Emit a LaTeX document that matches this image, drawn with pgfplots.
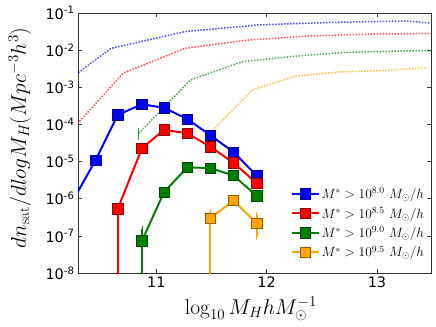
\RequirePackage{fix-cm}
\documentclass[border=0pt]{standalone}
\usepackage{fontspec}
\newfontfamily\dv{DejaVu Sans}
\usepackage{pgfplots}
\pgfplotsset{compat=1.18}

\definecolor{cb}{RGB}{0,0,255}
\definecolor{cr}{RGB}{255,0,0}
\definecolor{cg}{RGB}{0,128,0}
\definecolor{co}{RGB}{255,165,0}

\pgfplotsset{
  solidser/.style={#1, line width=2bp, mark=square*, mark size=5.2bp,
    mark options={solid, fill=#1, draw=#1!55!black, line width=0.6bp},
    error bars/.cd, y dir=both, y explicit,
    error bar style={line width=1.8bp, #1},
    error mark options={#1, mark size=2.8bp, line width=0.7bp},
    /pgfplots/.cd},
  dotser/.style={#1, opacity=0.7, line width=1.5bp, dash pattern=on 1.5bp off 1.5bp,
    mark=none, forget plot,
    error bars/.cd, y dir=both, y explicit,
    error bar style={solid, line width=1.4bp, #1},
    error mark options={solid, #1, mark size=2.8bp, line width=0.8bp},
    /pgfplots/.cd},
  errleg/.style={legend image code/.code={
    \draw[##1, mark=none] (0cm,0cm) -- (0.95cm,0cm);
    \draw[##1, mark=none] (0.475cm,-0.17cm) -- (0.475cm,0.17cm);
    \draw[##1, only marks] plot coordinates {(0.475cm,0cm)};}}
}

\begin{document}
\begin{tikzpicture}
\begin{axis}[
  name=main,
  scale only axis, width=353bp, height=260bp,
  ymode=log, log basis y=10,
  xmin=10.29, xmax=13.49, ymin=1e-8, ymax=1e-1,
  xtick={11,12,13}, xticklabels={11,12,13},
  ytick={1e-8,1e-7,1e-6,1e-5,1e-4,1e-3,1e-2,1e-1},
  yticklabels={10\textsuperscript{-8},10\textsuperscript{-7},10\textsuperscript{-6},10\textsuperscript{-5},10\textsuperscript{-4},10\textsuperscript{-3},10\textsuperscript{-2},10\textsuperscript{-1}},
  tick label style={font=\dv\fontsize{14.5}{16}\selectfont},
  tick align=inside, major tick length=4bp, minor tick length=2bp,
  xtick pos=both, ytick pos=both,
  axis line style={black!80, line width=0.8bp},
  every tick/.style={black!80, line width=0.6bp},
  xlabel={$\log_{10} M_H h M_\odot^{-1}$},
  ylabel={$dn_{\mathrm{sat}}/dlog M_H (Mpc^{-3}h^3)$},
  xlabel style={font=\fontsize{21.5}{24}\selectfont, at={(axis description cs:0.49,-0.137)}, anchor=center},
  ylabel style={font=\fontsize{21.5}{24}\selectfont, at={(axis description cs:-0.165,0.52)}, anchor=center},
  legend style={at={(0.995,0.04)}, anchor=south east, draw=none, fill=none,
    font=\fontsize{13.5}{15}\selectfont, row sep=3bp, legend cell align=left,
    /tikz/every even column/.append style={column sep=3bp}},
  clip=true,
]
% solid series with error bars
\addplot[errleg, solidser=cb] coordinates {
  (10.24,8.5e-7) (10.45,1.1e-5) (10.65,1.8e-4) (10.87,3.5e-4) (11.07,2.8e-4)
  (11.28,1.4e-4) (11.49,5.1e-5) (11.70,1.8e-5) (11.91,4.2e-6)
};
\addlegendentry{$M^{*} > 10^{8.0}\ M_{\odot}/h$}
\addplot[errleg, solidser=cr] coordinates {
  (10.65,5.3e-7) -= (0,5.299e-7)
  (10.87,2.3e-5) (11.07,7.1e-5) (11.28,5.8e-5) (11.49,2.5e-5)
  (11.70,9.3e-6) (11.91,2.6e-6)
};
\addlegendentry{$M^{*} > 10^{8.5}\ M_{\odot}/h$}
\addplot[errleg, solidser=cg] coordinates {
  (10.87,7.4e-8) += (0,8.1e-8) -= (0,7.399e-8)
  (11.07,1.5e-6) (11.28,7.0e-6) (11.49,6.7e-6) (11.70,4.2e-6) (11.91,1.2e-6)
};
\addlegendentry{$M^{*} > 10^{9.0}\ M_{\odot}/h$}
\addplot[errleg, solidser=co] coordinates {
  (11.49,3.0e-7) += (0,1.5e-7) -= (0,2.999e-7)
  (11.70,8.9e-7)
  (11.91,2.2e-7) += (0,1.4e-7) -= (0,1.25e-7)
};
\addlegendentry{$M^{*} > 10^{9.5}\ M_{\odot}/h$}
% dotted series
\addplot[dotser=cb] coordinates {
  (9.92,3.8e-4) (10.59,1.12e-2) (11.26,3.16e-2) (11.93,4.8e-2)
  (12.60,5.6e-2) (13.27,6.1e-2) (13.93,4.1e-2)
};
\addplot[dotser=cr] coordinates {
  (10.14,3.5e-5) (10.70,2.4e-3) (11.26,1.12e-2) (11.82,1.86e-2)
  (12.38,2.4e-2) (12.93,2.7e-2) (13.49,2.8e-2)
};
\addplot[dotser=cg] coordinates {
  (10.84,5.75e-5) += (0,1.05e-5) -= (0,1.25e-5)
  (11.31,1.58e-3) (11.78,4.9e-3) (12.26,6.9e-3)
  (12.72,8.7e-3) (13.22,9.5e-3) (13.70,1.0e-2)
};
\addplot[dotser=co] coordinates {
  (11.49,6.0e-5) (11.87,8.5e-4) (12.26,2.0e-3) (12.66,2.6e-3)
  (13.05,2.8e-3) (13.46,3.4e-3)
};
\end{axis}
\pgfresetboundingbox
\path[use as bounding box] (main.south west) ++(-78bp,-54bp) rectangle ++(436bp,327bp);
\end{tikzpicture}
\end{document}
